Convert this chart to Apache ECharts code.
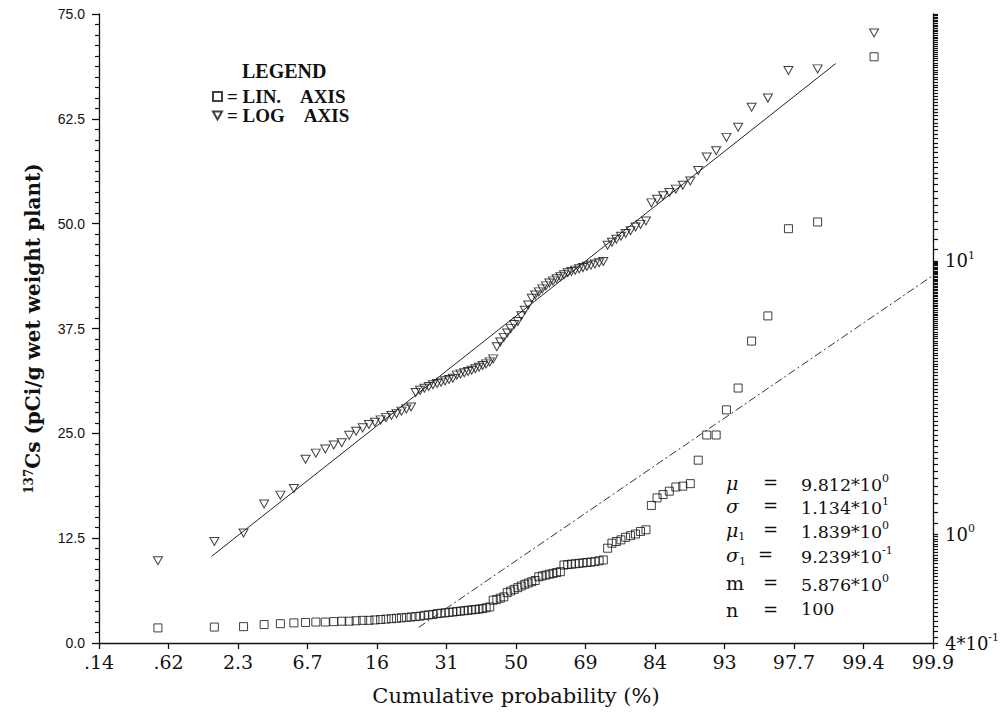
<!DOCTYPE html>
<html><head><meta charset="utf-8">
<script src="https://cdn.jsdelivr.net/npm/echarts@6/dist/echarts.min.js"></script>
<style>html,body{margin:0;padding:0;background:#fff}#c{width:1008px;height:714px}</style>
</head><body><div id="c"></div>
<script>
// Plotting positions (normal z-scores) of the 100 ranked samples
const zPositions = [-2.576,-2.170,-1.960,-1.812,-1.695,-1.598,-1.514,-1.440,-1.372,-1.311,-1.254,-1.200,-1.150,-1.103,-1.058,-1.015,-0.974,-0.935,-0.896,-0.860,-0.824,-0.789,-0.755,-0.722,-0.690,-0.659,-0.628,-0.598,-0.568,-0.539,-0.510,-0.482,-0.454,-0.426,-0.399,-0.372,-0.345,-0.319,-0.292,-0.266,-0.240,-0.215,-0.189,-0.164,-0.138,-0.113,-0.088,-0.063,-0.038,-0.013,
  0.013,0.038,0.063,0.088,0.113,0.138,0.164,0.189,0.215,0.240,0.266,0.292,0.319,0.345,0.372,0.399,0.426,0.454,0.482,0.510,0.539,0.568,0.598,0.628,0.659,0.690,0.722,0.755,0.789,0.824,0.860,0.896,0.935,0.974,1.015,1.058,1.103,1.150,1.200,1.254,1.311,1.372,1.440,1.514,1.598,1.695,1.812,1.960,2.170,2.576];
// x tick labels (cumulative probability, %) at z = -3 ... 3 step 0.5
const probTickLabels = ['.14','.62','2.3','6.7','16','31','50','69','84','93','97.7','99.4','99.9'];
// squares: values on the linear (left) axis
const linValues = [1.8,1.9,1.95,2.2,2.3,2.4,2.45,2.5,2.5,2.55,
  2.6,2.6,2.65,2.7,2.7,2.75,2.8,2.85,2.9,2.95,
  3.0,3.05,3.1,3.15,3.2,3.3,3.35,3.4,3.5,3.55,
  3.6,3.65,3.7,3.75,3.8,3.85,3.9,3.95,4.0,4.05,
  4.1,4.2,4.3,5.1,5.2,5.35,5.5,6.0,6.2,6.4,
  6.6,6.8,7.0,7.15,7.3,7.45,7.9,8.0,8.1,8.2,
  8.3,8.4,8.5,9.3,9.35,9.4,9.45,9.5,9.55,9.6,
  9.65,9.7,9.8,9.9,11.3,11.9,12.1,12.3,12.6,12.8,
  13.0,13.3,13.5,16.4,17.3,17.7,18.1,18.6,18.7,19.0,
  21.8,24.8,24.8,27.8,30.4,36,39,49.4,50.2,69.9];
// triangles: values on the log (right) axis
const logValues = [0.80,0.94,1.01,1.29,1.39,1.47,1.88,1.98,2.05,2.12,
  2.16,2.30,2.38,2.45,2.52,2.57,2.62,2.67,2.72,2.76,
  2.82,2.87,2.92,3.30,3.36,3.42,3.47,3.52,3.56,3.60,
  3.64,3.68,3.72,3.82,3.86,3.90,3.94,3.98,4.03,4.08,
  4.14,4.20,4.27,4.38,4.85,5.05,5.25,5.45,5.65,5.85,
  6.0,6.3,6.6,6.9,7.3,7.5,7.7,7.9,8.1,8.3,
  8.45,8.6,8.75,8.9,9.05,9.15,9.25,9.35,9.45,9.55,
  9.65,9.75,9.85,9.95,11.4,11.7,12.0,12.3,12.6,12.9,
  13.3,13.6,14.0,16.3,16.8,17.3,17.8,18.3,18.9,19.6,
  21.4,24.0,25.3,28.3,30.8,36.5,39.4,49.7,50.4,68.2];
// fitted lines (end points)
const linFitZ = [-0.7, 3.0];
const linFitV = [1.87, 43.83];
const logFitZ = [-2.19, 2.3];
const logFitV = [0.83, 52.7];
// statistics box
const statSymbols = ['μ','σ','μ','σ','m','n'];
const statSubs = ['','','1','1','',''];
const statMantissa = ['9.812*10','1.134*10','1.839*10','9.239*10','5.876*10','100'];
const statExp = ['0','1','0','-1','0',''];

const SERIF = 'DejaVu Serif';
const chart = echarts.init(document.getElementById('c'), null, {renderer:'svg'});

const LOG_MIN = 0.4, LOG_MAX = 80;
// tick marks of the log axis
const logTickValues = [];
for (let k = 20; k < 50; k++) logTickValues.push(+(k*0.02).toFixed(2));
for (let k = 10; k < 100; k++) logTickValues.push(+(k*0.1).toFixed(1));
for (let k = 10; k <= 80; k++) logTickValues.push(k);

const statRowY = [485, 508, 532, 557, 585, 612];
const graphics = [];
statSymbols.forEach((s, i) => {
  graphics.push({type:'text', left: 726, top: statRowY[i]-12, z: 100,
    style:{text: statSubs[i] ? '{g|'+s+'}{sub|'+statSubs[i]+'}' : '{g|'+s+'}',
      rich:{g:{fontFamily:SERIF, fontStyle: (s==='m'||s==='n')?'normal':'italic', fontSize:19, fill:'#111', lineHeight:24},
            sub:{fontFamily:SERIF, fontSize:11, fill:'#111', verticalAlign:'bottom', lineHeight:24}}}});
  graphics.push({type:'text', left: i===3?758:763, top: statRowY[i]-12, z:100,
    style:{text:'=', fontFamily:SERIF, fontSize:18, fill:'#111'}});
  graphics.push({type:'text', left: 801, top: statRowY[i]-12, z:100,
    style:{text: statExp[i] ? '{m|'+statMantissa[i]+'}{e|'+statExp[i]+'}' : '{m|'+statMantissa[i]+'}',
      rich:{m:{fontFamily:SERIF, fontSize:17.5, fill:'#111', lineHeight:24},
            e:{fontFamily:SERIF, fontSize:11, fill:'#111', verticalAlign:'top', lineHeight:24}}}});
});

const option = {
  backgroundColor:'#fff',
  animation:false,
  title:{text:'LEGEND', left:237, top:56, textStyle:{fontFamily:'Liberation Serif', fontWeight:'bold', fontSize:20, color:'#111'}},
  legend:{data:['LIN. AXIS','LOG AXIS'], orient:'vertical', left:207, top:82, itemWidth:9, itemHeight:9, itemGap:0,
    textStyle:{fontFamily:'Liberation Serif', fontWeight:'bold', fontSize:19, color:'#111'},
    formatter: n => '= ' + n.replace(' ', '\u2003')},
  grid:{left:99, right:75, top:14, bottom:71},
  xAxis:{type:'value', min:-3, max:3, interval:0.5,
    name:'Cumulative probability (%)', nameLocation:'middle', nameGap:42,
    nameTextStyle:{fontFamily:SERIF, fontSize:21, color:'#111'},
    axisLine:{show:true, onZero:false, lineStyle:{color:'#111', width:1.3}},
    axisTick:{show:true, length:6, lineStyle:{color:'#111', width:1.3}},
    axisLabel:{margin:9, fontFamily:SERIF, fontSize:19, color:'#111',
      formatter: v => probTickLabels[Math.round((v+3)/0.5)] || ''},
    splitLine:{show:false}},
  yAxis:[
    {type:'value', min:0, max:75, interval:12.5, position:'left',
      name:'{sup|137}Cs (pCi/g wet weight plant)', nameLocation:'middle', nameGap:56,
      nameTextStyle:{fontFamily:SERIF, fontWeight:'bold', fontSize:20, color:'#111',
        rich:{sup:{fontFamily:SERIF, fontWeight:'bold', fontSize:12, color:'#111', verticalAlign:'top'}}},
      axisLine:{show:true, onZero:false, lineStyle:{color:'#111', width:1.3}},
      axisTick:{show:true, length:7, lineStyle:{color:'#111', width:1.3}},
      minorTick:{show:true, splitNumber:10, length:4, lineStyle:{color:'#111', width:1.2}},
      axisLabel:{margin:14, fontFamily:'Liberation Sans', fontSize:14, color:'#111', formatter: v => v.toFixed(1)},
      splitLine:{show:false}},
    {type:'log', logBase:10, min:LOG_MIN, max:LOG_MAX, position:'right',
      axisLine:{show:true, onZero:false, lineStyle:{color:'#111', width:1.3}},
      axisTick:{show:true, length:5, customValues: logTickValues, lineStyle:{color:'#111', width:1.2}},
      axisLabel:{margin:12, customValues:[0.4, 1, 10], color:'#111',
        formatter: v => {
          if (Math.abs(v-0.4) < 1e-6) return '{n|4*10}{s|-1}';
          if (Math.abs(v-1) < 1e-6) return '{n|10}{s|0}';
          if (Math.abs(v-10) < 1e-6) return '{n|10}{s|1}';
          return '';
        },
        rich:{n:{fontFamily:SERIF, fontSize:18, color:'#111', lineHeight:22},
              s:{fontFamily:SERIF, fontSize:11, color:'#111', verticalAlign:'top', lineHeight:22}}},
      splitLine:{show:false}, minorSplitLine:{show:false}}
  ],
  series:[
    {name:'LIN. AXIS', type:'scatter', yAxisIndex:0, symbol:'rect', symbolSize:8,
      itemStyle:{color:'rgba(0,0,0,0)', borderColor:'#111', borderWidth:1},
      data: zPositions.map((z,i)=>[z, linValues[i]])},
    {name:'LOG AXIS', type:'scatter', yAxisIndex:1, symbol:'path://M0,0 L10,0 L5,9 Z', symbolSize:[9,8],
      itemStyle:{color:'rgba(0,0,0,0)', borderColor:'#111', borderWidth:1},
      data: zPositions.map((z,i)=>[z, logValues[i]])},
    {name:'normal fit', type:'line', yAxisIndex:0, symbol:'none', silent:true,
      lineStyle:{color:'#333', width:1, type:[8,3,2,3]},
      data: linFitZ.map((z,i)=>[z, linFitV[i]])},
    {name:'lognormal fit', type:'line', yAxisIndex:1, symbol:'none', silent:true,
      lineStyle:{color:'#222', width:1},
      data: logFitZ.map((z,i)=>[z, logFitV[i]])}
  ],
  graphic: graphics
};
chart.setOption(option);
</script></body></html>
